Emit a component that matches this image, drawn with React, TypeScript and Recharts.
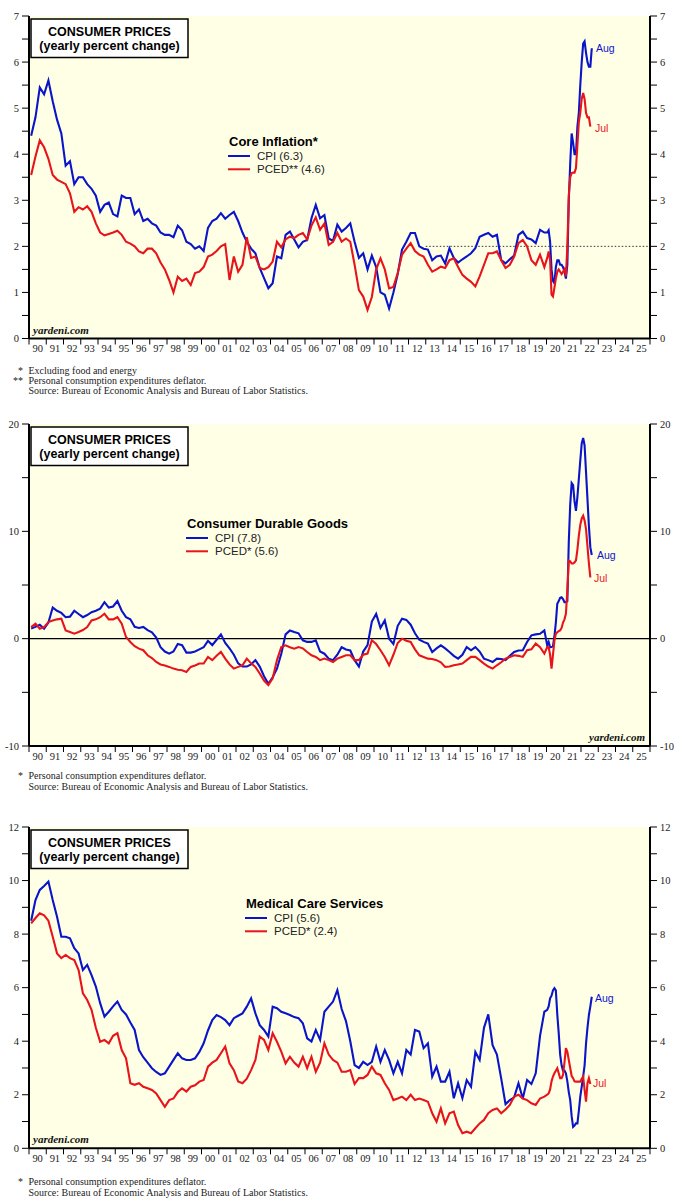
import React from 'react';
import { LineChart, Line, XAxis, YAxis, CartesianGrid, ReferenceLine } from 'recharts';

const BLUE = '#0a14c8';
const RED = '#e8141c';
const CREAM = '#ffffe6';
const SANS = '"Liberation Sans", Arial, sans-serif';
const SERIF = '"Liberation Serif", "Times New Roman", serif';

const WIDTH = 687;
const LEFT_AXIS = 29;
const RIGHT_AXIS = 37;
const HALF_YEAR = (WIDTH - LEFT_AXIS - RIGHT_AXIS) / 36 / 2;

// x axis: one tick per January, labels sit between ticks
const yearTicks = [
  1990, 1991, 1992, 1993, 1994, 1995, 1996, 1997, 1998, 1999, 2000, 2001, 2002,
  2003, 2004, 2005, 2006, 2007, 2008, 2009, 2010, 2011, 2012, 2013, 2014, 2015,
  2016, 2017, 2018, 2019, 2020, 2021, 2022, 2023, 2024, 2025, 2026,
];

const coreTicks = [0, 0.5, 1, 1.5, 2, 2.5, 3, 3.5, 4, 4.5, 5, 5.5, 6, 6.5, 7];
const durableTicks = [-10, -5, 0, 5, 10, 15, 20];
const medicalTicks = [0, 1, 2, 3, 4, 5, 6, 7, 8, 9, 10, 11, 12];

// ---- Core inflation (quarterly 1990Q1-2019Q4, then monthly from Jan 2020) ----
const coreCpiQ = [
  4.4, 4.8, 5.45, 5.3, // 90
  5.6, 5.15, 4.75, 4.45,
  3.75, 3.85, 3.35, 3.5,
  3.5, 3.35, 3.25, 3.1,
  2.75, 2.9, 2.95, 2.7,
  2.65, 3.1, 3.05, 3.05, // 95
  2.7, 2.8, 2.55, 2.6,
  2.5, 2.45, 2.3, 2.25,
  2.25, 2.2, 2.45, 2.35,
  2.1, 2.05, 1.95, 2.0,
  1.9, 2.4, 2.55, 2.6, // 00
  2.72, 2.6, 2.68, 2.75,
  2.55, 2.3, 2.1, 1.95,
  1.85, 1.53, 1.31, 1.09,
  1.2, 1.78, 1.74, 2.25,
  2.32, 2.15, 1.98, 2.1, // 05
  2.14, 2.61, 2.9, 2.61,
  2.68, 2.17, 2.12, 2.47,
  2.32, 2.4, 2.5, 2.1,
  1.75, 1.85, 1.5, 1.8,
  1.55, 1.0, 0.95, 0.65, // 10
  1.0, 1.4, 1.93, 2.1,
  2.29, 2.29, 2.0, 1.95,
  1.93, 1.7, 1.78, 1.8,
  1.63, 1.96, 1.75, 1.65,
  1.72, 1.78, 1.85, 1.96, // 15
  2.21, 2.25, 2.29, 2.21,
  2.25, 1.7, 1.63, 1.72,
  1.8, 2.25, 2.32, 2.18,
  2.15, 2.07, 2.36, 2.3,
];
const coreCpiM = [
  2.3, 2.35, 2.1, 1.5, 1.25, 1.2, 1.55, 1.7, 1.7, 1.6, 1.6, 1.55, // 20
  1.45, 1.3, 1.6, 3.0, 3.8, 4.45, 4.25, 4.0, 4.0, 4.6, 4.9, 5.5, // 21
  6.0, 6.4, 6.45, 6.2, 6.0, 5.9, 5.9, 6.3, // 22 (Aug)
];
const corePceQ = [
  3.55, 3.95, 4.3, 4.15, // 90
  3.9, 3.55, 3.45, 3.4,
  3.35, 3.15, 2.75, 2.85,
  2.8, 2.87, 2.75, 2.5,
  2.3, 2.24, 2.27, 2.3,
  2.34, 2.25, 2.1, 2.06, // 95
  2.0, 1.89, 1.85, 1.95,
  1.95, 1.85, 1.65, 1.5,
  1.27, 1.0, 1.34, 1.25,
  1.3, 1.16, 1.42, 1.45,
  1.55, 1.78, 1.82, 1.9, // 00
  2.0, 2.05, 1.27, 1.78,
  1.45, 1.6, 2.2, 1.75,
  1.78, 1.53, 1.5, 1.55,
  1.67, 2.1, 1.98, 2.15,
  2.21, 2.18, 2.25, 2.29, // 05
  2.15, 2.45, 2.63, 2.36,
  2.5, 2.03, 2.1, 2.29,
  2.1, 2.17, 2.1, 1.6,
  1.05, 0.91, 0.62, 0.9,
  1.5, 1.74, 1.5, 1.09, // 10
  1.12, 1.42, 1.82, 1.95,
  2.07, 1.9, 1.82, 1.78,
  1.6, 1.45, 1.5, 1.56,
  1.53, 1.7, 1.74, 1.55,
  1.38, 1.3, 1.23, 1.13, // 15
  1.35, 1.6, 1.85, 1.85,
  1.89, 1.7, 1.53, 1.6,
  1.78, 2.07, 2.14, 2.0,
  1.7, 1.6, 1.82, 1.55,
];
const corePceM = [
  1.75, 1.89, 1.7, 0.95, 0.91, 1.1, 1.3, 1.45, 1.5, 1.45, 1.4, 1.45, // 20
  1.5, 1.35, 2.0, 3.1, 3.5, 3.59, 3.6, 3.6, 3.7, 4.2, 4.7, 4.9, // 21
  5.2, 5.33, 5.2, 4.9, 4.8, 4.8, 4.6, // 22 (Jul)
];

// ---- Consumer durable goods ----
const durCpiQ = [
  0.95, 1.1, 1.3, 0.93, // 90
  1.5, 2.9, 2.6, 2.4,
  2.0, 2.05, 2.6, 2.3,
  2.0, 2.2, 2.47, 2.6,
  2.8, 3.4, 2.9, 3.0,
  3.5, 2.6, 2.0, 1.8, // 95
  1.1, 1.0, 1.1, 0.8,
  0.6, 0.1, -0.8, -1.2,
  -1.4, -1.2, -0.5, -0.6,
  -1.3, -1.3, -1.2, -1.0,
  -0.8, -0.2, -0.6, -0.1, // 00
  0.4, -0.4, -0.9, -1.5,
  -2.3, -2.6, -2.6, -2.4,
  -2.0, -2.6, -3.5, -4.2,
  -3.6, -2.8, -1.4, 0.4,
  0.77, 0.62, 0.5, -0.15, // 05
  -0.3, -0.3, -0.15, -1.2,
  -1.4, -1.86, -2.0, -1.5,
  -0.8, -1.0, -1.1, -2.0,
  -2.6, -1.2, -0.6, 1.6,
  2.3, 1.0, 1.7, 0.0, // 10
  -0.5, 1.2, 1.86, 1.75,
  1.3, 0.5, -0.1, -0.3,
  -0.46, -1.24, -0.9, -0.62,
  -0.9, -1.24, -1.6, -1.86,
  -1.5, -0.78, -1.08, -0.78, // 15
  -1.2, -1.86, -2.0, -2.17,
  -1.86, -1.9, -2.0, -1.6,
  -1.24, -1.1, -1.08, -0.31,
  0.31, 0.4, 0.46, 0.77,
];
const durCpiM = [
  -0.62, -0.3, -0.8, -0.78, -0.7, 0.2, 1.5, 3.25, 3.5, 3.8, 3.86, 3.7, // 20
  3.4, 3.4, 3.5, 9.0, 12.5, 14.5, 14.3, 12.8, 11.9, 13.2, 14.9, 16.6, // 21
  18.2, 18.7, 18.0, 15.5, 13.0, 10.5, 8.5, 7.8, // 22 (Aug)
];
const durPceQ = [
  1.08, 1.4, 0.93, 1.08, // 90
  1.55, 1.7, 1.8, 1.86,
  0.77, 0.62, 0.46, 0.62,
  0.8, 1.08, 1.7, 1.8,
  2.0, 2.32, 1.8, 1.8,
  2.0, 1.39, 0.15, -0.31, // 95
  -0.7, -0.93, -1.08, -1.55,
  -1.8, -2.17, -2.4, -2.5,
  -2.63, -2.79, -2.9, -2.94,
  -3.1, -2.63, -2.5, -2.32,
  -2.32, -1.7, -2.0, -1.6, // 00
  -1.24, -1.86, -2.4, -2.79,
  -2.63, -2.48, -1.86, -2.3,
  -2.63, -3.25, -3.9, -4.33,
  -3.7, -2.0, -0.78, -0.62,
  -0.8, -0.93, -0.78, -0.9, // 05
  -1.24, -1.55, -1.7, -2.0,
  -1.86, -2.0, -2.17, -1.86,
  -1.7, -1.55, -1.55, -2.0,
  -2.0, -1.5, -1.39, -0.15,
  -0.5, -1.08, -1.7, -2.48, // 10
  -1.5, -0.4, 0.0, -0.2,
  -0.31, -1.0, -1.55, -1.7,
  -1.86, -1.9, -2.0, -2.2,
  -2.63, -2.6, -2.48, -2.4,
  -2.32, -2.0, -1.7, -1.7, // 15
  -2.0, -2.32, -2.6, -2.79,
  -2.48, -2.2, -1.86, -1.7,
  -1.55, -1.6, -1.7, -1.08,
  -1.0, -0.46, -0.8, -1.39,
];
const durPceM = [
  -0.78, -0.8, -1.5, -2.79, -1.5, -0.2, 0.46, 0.6, 0.7, 0.77, 1.0, 1.5, // 20
  1.8, 2.32, 4.5, 7.27, 7.2, 7.0, 7.0, 7.1, 7.3, 8.3, 9.6, 10.6, // 21
  11.2, 11.45, 11.0, 10.2, 8.6, 7.0, 5.7, // 22 (Jul)
];

// ---- Medical care services ----
const medCpiQ = [
  8.5, 9.27, 9.65, 9.8, // 90
  9.96, 9.27, 8.65, 7.9,
  7.9, 7.84, 7.47, 7.28,
  6.66, 6.85, 6.47, 6.04,
  5.42, 4.92, 5.1, 5.3,
  5.48, 5.17, 5.0, 4.7, // 95
  4.42, 3.67, 3.4, 3.2,
  2.99, 2.85, 2.74, 2.8,
  3.05, 3.3, 3.55, 3.36,
  3.3, 3.3, 3.36, 3.6,
  3.92, 4.4, 4.79, 4.98, // 00
  4.9, 4.79, 4.6, 4.86,
  4.95, 5.04, 5.29, 5.6,
  5.04, 4.6, 4.42, 4.17,
  5.29, 5.23, 5.1, 5.04,
  4.98, 4.9, 4.86, 4.67, // 05
  4.11, 3.99, 4.42, 4.05,
  5.1, 5.29, 5.48, 5.91,
  5.2, 4.75, 4.0, 3.11,
  3.0, 3.23, 3.11, 3.23,
  3.8, 3.23, 3.67, 3.3, // 10
  2.8, 3.23, 2.8, 3.67,
  3.5, 4.42, 4.36, 3.74,
  3.92, 2.68, 3.05, 2.49,
  2.49, 2.86, 1.87, 2.43,
  1.87, 2.55, 2.3, 3.6, // 15
  3.3, 4.5, 5.0, 3.85,
  3.5, 2.6, 1.65, 1.8,
  1.9, 2.43, 1.86, 2.55,
  2.4, 2.8, 4.2, 5.1,
];
const medCpiM = [
  5.17, 5.3, 5.6, 5.7, 5.9, 5.98, 5.9, 5.0, 4.3, 3.5, 3.1, 2.9, // 20
  2.9, 2.8, 2.5, 2.1, 1.8, 1.2, 0.8, 0.85, 0.93, 0.93, 1.4, 1.93, // 21
  2.3, 2.68, 3.1, 3.92, 4.5, 4.98, 5.3, 5.66, // 22 (Aug)
];
const medPceQ = [
  8.4, 8.6, 8.78, 8.7, // 90
  8.5, 7.9, 7.28, 7.1,
  7.22, 7.1, 7.03, 6.66,
  5.79, 5.54, 5.17, 4.5,
  3.98, 4.05, 3.92, 4.2,
  4.3, 3.67, 3.36, 2.43, // 95
  2.37, 2.43, 2.3, 2.24,
  2.18, 2.05, 1.8, 1.55,
  1.8, 1.86, 2.1, 2.24,
  2.12, 2.3, 2.35, 2.49,
  2.55, 3.05, 3.2, 3.3, // 00
  3.55, 3.8, 3.17, 2.92,
  2.5, 2.43, 2.6, 2.92,
  3.3, 4.17, 4.05, 3.67,
  4.3, 3.98, 3.61, 3.17,
  3.42, 3.2, 3.05, 3.42, // 05
  2.99, 3.42, 2.86, 3.2,
  3.92, 3.5, 3.3, 3.2,
  2.86, 2.86, 2.92, 2.4,
  2.62, 2.62, 2.74, 3.05,
  2.8, 2.74, 2.43, 2.18, // 10
  1.8, 1.86, 1.93, 1.8,
  2.0, 1.8, 1.86, 1.8,
  1.74, 1.31, 0.99, 1.49,
  0.93, 1.31, 1.37, 0.87,
  0.56, 0.62, 0.56, 0.75, // 15
  0.93, 1.06, 1.31, 1.43,
  1.49, 1.31, 1.45, 1.62,
  1.93, 2.0, 1.86, 1.8,
  1.68, 1.62, 1.86, 1.93,
];
const medPceM = [
  2.0, 2.05, 2.2, 2.5, 2.68, 2.8, 2.9, 2.99, 2.8, 2.62, 2.62, 2.74, // 20
  3.2, 3.74, 3.6, 3.3, 3.0, 2.7, 2.62, 2.5, 2.49, 2.49, 2.49, 2.49, // 21
  2.6, 2.68, 2.18, 1.74, 2.43, 2.62, 2.4, // 22 (Jul)
];

type Point = { x: number; v: number };

// quarterly points sit mid-quarter, monthly points mid-month
const toSeries = (quarterly: number[], monthly: number[]): Point[] => [
  ...quarterly.map((v, i) => ({ x: 1990 + i / 4 + 1.5 / 12, v })),
  ...monthly.map((v, j) => ({ x: 2020 + (j + 0.5) / 12, v })),
];

const YearTick = (props: any) => {
  const { x, y, payload } = props;
  if (payload.value >= 2026) return <g />;
  return (
    <text
      x={x + HALF_YEAR}
      y={y}
      dy={5.5}
      textAnchor="middle"
      fontFamily={SERIF}
      fontSize={10.5}
      fill="#222"
    >
      {String(payload.value % 100).padStart(2, '0')}
    </text>
  );
};

interface PanelProps {
  top: number;
  plotHeight: number;
  domain: [number, number];
  ticks: number[];
  labelStep: number;
  cpi: Point[];
  pce: Point[];
  children?: React.ReactNode;
}

const Panel: React.FC<PanelProps> = ({ top, plotHeight, domain, ticks, labelStep, cpi, pce, children }) => {
  const fmt = (v: number) => (Math.abs(v / labelStep - Math.round(v / labelStep)) < 1e-6 ? String(v) : '');
  const tickStyle = { fontSize: 10.5, fontFamily: SERIF, fill: '#222' };
  const frame = { stroke: '#000', strokeWidth: 2 };
  return (
    <div style={{ position: 'absolute', left: 0, top: top - 10 }}>
      <LineChart width={WIDTH} height={plotHeight + 40} margin={{ top: 10, right: 0, bottom: 0, left: 0 }}>
        <CartesianGrid horizontal={false} vertical={false} fill={CREAM} />
        <XAxis
          xAxisId="top"
          orientation="top"
          type="number"
          domain={[1990, 2026]}
          height={0}
          tick={false}
          tickLine={false}
          axisLine={frame}
        />
        <XAxis
          dataKey="x"
          type="number"
          domain={[1990, 2026]}
          ticks={yearTicks}
          interval={0}
          height={30}
          tickSize={6}
          tickLine={{ stroke: '#000' }}
          axisLine={frame}
          tick={(p: any) => <YearTick {...p} />}
          allowDataOverflow
        />
        <YAxis
          domain={domain}
          ticks={ticks}
          interval={0}
          width={LEFT_AXIS}
          tickSize={7}
          tickMargin={3}
          tickFormatter={fmt}
          tick={tickStyle}
          tickLine={{ stroke: '#000' }}
          axisLine={frame}
          allowDataOverflow
        />
        <YAxis
          yAxisId="right"
          orientation="right"
          domain={domain}
          ticks={ticks}
          interval={0}
          width={RIGHT_AXIS}
          tickSize={7}
          tickMargin={3}
          tickFormatter={fmt}
          tick={{ ...tickStyle, textAnchor: 'start' }}
          tickLine={{ stroke: '#000' }}
          axisLine={frame}
          allowDataOverflow
        />
        {children}
        <Line data={cpi} dataKey="v" type="linear" stroke={BLUE} strokeWidth={2.1} dot={false} isAnimationActive={false} />
        <Line data={pce} dataKey="v" type="linear" stroke={RED} strokeWidth={2.1} dot={false} isAnimationActive={false} />
      </LineChart>
    </div>
  );
};

const TitleBox = ({ top }: { top: number }) => (
  <g>
    <rect x={31} y={top + 3} width={157} height={38.5} fill="#fff" stroke="#000" strokeWidth={1.5} />
    <text x={109.5} y={top + 20} textAnchor="middle" fontFamily={SANS} fontWeight="bold" fontSize={12.5}>
      CONSUMER PRICES
    </text>
    <text x={109.5} y={top + 34} textAnchor="middle" fontFamily={SANS} fontWeight="bold" fontSize={12.5}>
      (yearly percent change)
    </text>
  </g>
);

const Legend = ({ x, y, title, cpiText, pceText }: { x: number; y: number; title: string; cpiText: string; pceText: string }) => (
  <g fontFamily={SANS}>
    <text x={x} y={y} fontWeight="bold" fontSize={13}>{title}</text>
    <line x1={x - 1} x2={x + 21} y1={y + 10} y2={y + 10} stroke={BLUE} strokeWidth={2} />
    <text x={x + 28} y={y + 13.8} fontSize={11.5} fill="#222">{cpiText}</text>
    <line x1={x - 1} x2={x + 21} y1={y + 23.3} y2={y + 23.3} stroke={RED} strokeWidth={2} />
    <text x={x + 28} y={y + 27.2} fontSize={11.5} fill="#222">{pceText}</text>
  </g>
);

const EndLabel = ({ x, y, color, text }: { x: number; y: number; color: string; text: string }) => (
  <text x={x} y={y} fontFamily={SANS} fontSize={10.5} fill={color}>{text}</text>
);

const Brand = ({ x, y, anchor = 'start' }: { x: number; y: number; anchor?: 'start' | 'end' }) => (
  <text x={x} y={y} textAnchor={anchor} fontFamily={SERIF} fontStyle="italic" fontWeight="bold" fontSize={11} fill="#111">
    yardeni.com
  </text>
);

const Note = ({ y, mark, text }: { y: number; mark?: string; text: string }) => (
  <g fontFamily={SERIF} fontSize={10} fill="#222">
    {mark && <text x={23} y={y} textAnchor="end">{mark}</text>}
    <text x={28.5} y={y}>{text}</text>
  </g>
);

const SOURCE = 'Source: Bureau of Economic Analysis and Bureau of Labor Statistics.';

export default function App() {
  const coreCpi = toSeries(coreCpiQ, coreCpiM);
  const corePce = toSeries(corePceQ, corePceM);
  const durCpi = toSeries(durCpiQ, durCpiM);
  const durPce = toSeries(durPceQ, durPceM);
  const medCpi = toSeries(medCpiQ, medCpiM);
  const medPce = toSeries(medPceQ, medPceM);

  return (
    <div style={{ position: 'absolute', left: 0, top: 0, width: WIDTH, height: 1202, background: '#fff', overflow: 'hidden' }}>
      <Panel top={16} plotHeight={322.5} domain={[0, 7]} ticks={coreTicks} labelStep={1} cpi={coreCpi} pce={corePce}>
        <ReferenceLine
          segment={[{ x: 2013, y: 2 }, { x: 2026, y: 2 }]}
          stroke="#333"
          strokeWidth={1}
          strokeDasharray="1.5 2"
        />
      </Panel>
      <Panel top={424} plotHeight={322} domain={[-10, 20]} ticks={durableTicks} labelStep={10} cpi={durCpi} pce={durPce}>
        <ReferenceLine y={0} stroke="#000" strokeWidth={1.2} />
      </Panel>
      <Panel top={827} plotHeight={321.3} domain={[0, 12]} ticks={medicalTicks} labelStep={2} cpi={medCpi} pce={medPce} />

      <svg width={WIDTH} height={1202} style={{ position: 'absolute', left: 0, top: 0, pointerEvents: 'none' }}>
        {/* panel 1 */}
        <TitleBox top={16} />
        <Legend x={229} y={146} title="Core Inflation*" cpiText="CPI (6.3)" pceText="PCED** (4.6)" />
        <EndLabel x={596} y={52} color={BLUE} text="Aug" />
        <EndLabel x={595} y={132} color={RED} text="Jul" />
        <Brand x={33} y={334} />
        <Note y={374} mark="*" text="Excluding food and energy" />
        <Note y={384} mark="**" text="Personal consumption expenditures deflator." />
        <Note y={394} text={SOURCE} />

        {/* panel 2 */}
        <TitleBox top={424} />
        <Legend x={187} y={528} title="Consumer Durable Goods" cpiText="CPI (7.8)" pceText="PCED* (5.6)" />
        <EndLabel x={597} y={559} color={BLUE} text="Aug" />
        <EndLabel x={594} y={582} color={RED} text="Jul" />
        <Brand x={645} y={741} anchor="end" />
        <Note y={779} mark="*" text="Personal consumption expenditures deflator." />
        <Note y={790} text={SOURCE} />

        {/* panel 3 */}
        <TitleBox top={827} />
        <Legend x={246} y={908} title="Medical Care Services" cpiText="CPI (5.6)" pceText="PCED* (2.4)" />
        <EndLabel x={595} y={1002} color={BLUE} text="Aug" />
        <EndLabel x={593} y={1087} color={RED} text="Jul" />
        <Brand x={33} y={1143} />
        <Note y={1185} mark="*" text="Personal consumption expenditures deflator." />
        <Note y={1196} text={SOURCE} />
      </svg>
    </div>
  );
}
